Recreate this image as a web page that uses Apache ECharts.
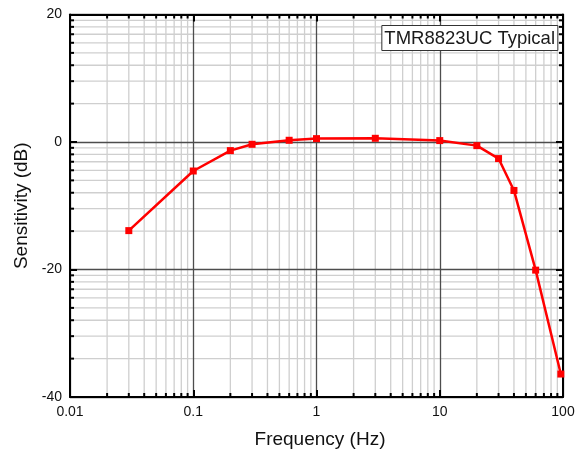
<!DOCTYPE html>
<html><head><meta charset="utf-8">
<script src="https://cdn.jsdelivr.net/npm/echarts@6/dist/echarts.min.js"></script>
<style>html,body{margin:0;padding:0;background:#fff}#c{width:582px;height:451px}</style>
</head><body><div id="c"></div>
<script>
const frequencies = [0.03, 0.1, 0.2, 0.3, 0.6, 1, 3, 10, 20, 30, 40, 60, 96];
const sensitivity = [-13.9, -4.55, -1.35, -0.36, 0.27, 0.53, 0.58, 0.22, -0.57, -2.6, -7.6, -20.1, -36.4];
const xTicks = [0.01, 0.1, 1, 10, 100];
const yTicks = [-40, -20, 0, 20];
const seriesName = 'TMR8823UC Typical';

const FONT = 'Liberation Sans, Arial, sans-serif';
const xMin = xTicks[0], xMax = xTicks[xTicks.length - 1];
const yMin = yTicks[0], yMax = yTicks[yTicks.length - 1];

// log-paper style minor grid positions (2..9 within each decade / 20 dB span)
const xMinor = [];
for (let d = 0; d < xTicks.length - 1; d++)
  for (let k = 2; k <= 9; k++) xMinor.push([+(xTicks[d] * k).toPrecision(3), yMin]);
const yMinor = [];
for (let d = 0; d < yTicks.length - 1; d++)
  for (let k = 2; k <= 9; k++) yMinor.push([xMin, yTicks[d] + 20 * Math.log10(k)]);

const chart = echarts.init(document.getElementById('c'));
const MINOR = '#cfcfcf';
const majorLine = {show: true, lineStyle: {color: '#4d4d4d', width: 1.3}};
const axisLineStyle = {show: true, onZero: false, lineStyle: {color: '#000', width: 2}};
const tickStyle = {show: true, inside: true, length: 7, lineStyle: {color: '#000', width: 2}};

function vMinor(params, api) {
  const x = api.value(0);
  const b = api.coord([x, yMin]), t = api.coord([x, yMax]);
  return {type: 'group', children: [
    {type: 'line', shape: {x1: b[0], y1: b[1], x2: t[0], y2: t[1]}, style: {stroke: MINOR, lineWidth: 1.3}},
    {type: 'line', shape: {x1: b[0], y1: b[1], x2: b[0], y2: b[1] - 4}, style: {stroke: '#000', lineWidth: 2}, z2: 10},
    {type: 'line', shape: {x1: t[0], y1: t[1], x2: t[0], y2: t[1] + 4}, style: {stroke: '#000', lineWidth: 2}, z2: 10}
  ]};
}
function hMinor(params, api) {
  const y = api.value(1);
  const l = api.coord([xMin, y]), r = api.coord([xMax, y]);
  return {type: 'group', children: [
    {type: 'line', shape: {x1: l[0], y1: l[1], x2: r[0], y2: r[1]}, style: {stroke: MINOR, lineWidth: 1.3}},
    {type: 'line', shape: {x1: l[0], y1: l[1], x2: l[0] + 4, y2: l[1]}, style: {stroke: '#000', lineWidth: 2}, z2: 10},
    {type: 'line', shape: {x1: r[0], y1: r[1], x2: r[0] - 4, y2: r[1]}, style: {stroke: '#000', lineWidth: 2}, z2: 10}
  ]};
}

chart.setOption({
  animation: false,
  backgroundColor: '#fff',
  title: {
    text: seriesName, right: 24, top: 25,
    borderColor: '#333', borderWidth: 1, padding: [4, 3, 3, 3],
    backgroundColor: '#fff', z: 20,
    textStyle: {fontFamily: FONT, fontSize: 18.5, fontWeight: 'normal', color: '#1a1a1a'}
  },
  grid: {left: 70, right: 19, top: 14.5, bottom: 54, outerBoundsMode: 'none', containLabel: false},
  xAxis: [{
    type: 'log', logBase: 10, min: xMin, max: xMax, interval: 1, position: 'bottom',
    name: 'Frequency (Hz)', nameLocation: 'middle', nameGap: 33,
    nameTextStyle: {fontFamily: FONT, fontSize: 19, color: '#111', padding: [0, 0, 0, 7]},
    axisLine: axisLineStyle, axisTick: tickStyle,
    splitLine: majorLine,
    axisLabel: {fontFamily: FONT, fontSize: 14, color: '#111', margin: 8,
      formatter: v => String(+(+v).toPrecision(3))}
  }, {
    type: 'log', logBase: 10, min: xMin, max: xMax, interval: 1, position: 'top',
    axisLine: axisLineStyle, axisTick: tickStyle,
    splitLine: {show: false}, axisLabel: {show: false}
  }],
  yAxis: [{
    type: 'value', min: yMin, max: yMax, interval: 20, position: 'left',
    name: 'Sensitivity (dB)', nameLocation: 'middle', nameGap: 38,
    nameTextStyle: {fontFamily: FONT, fontSize: 19, color: '#111'},
    axisLine: axisLineStyle, axisTick: tickStyle,
    splitLine: majorLine,
    axisLabel: {fontFamily: FONT, fontSize: 14, color: '#111', margin: 8}
  }, {
    type: 'value', min: yMin, max: yMax, interval: 20, position: 'right',
    axisLine: axisLineStyle, axisTick: tickStyle,
    splitLine: {show: false}, axisLabel: {show: false}
  }],
  series: [{
    type: 'custom', silent: true, z: -1, xAxisIndex: 0, yAxisIndex: 0,
    data: xMinor, renderItem: vMinor, clip: false
  }, {
    type: 'custom', silent: true, z: -1, xAxisIndex: 0, yAxisIndex: 0,
    data: yMinor, renderItem: hMinor, clip: false
  }, {
    name: seriesName, type: 'line', xAxisIndex: 0, yAxisIndex: 0,
    data: frequencies.map((f, i) => [f, sensitivity[i]]),
    symbol: 'rect', symbolSize: 7,
    lineStyle: {color: '#ff0000', width: 2.5},
    itemStyle: {color: '#ff0000'},
    clip: false, z: 5
  }]
});
</script></body></html>
